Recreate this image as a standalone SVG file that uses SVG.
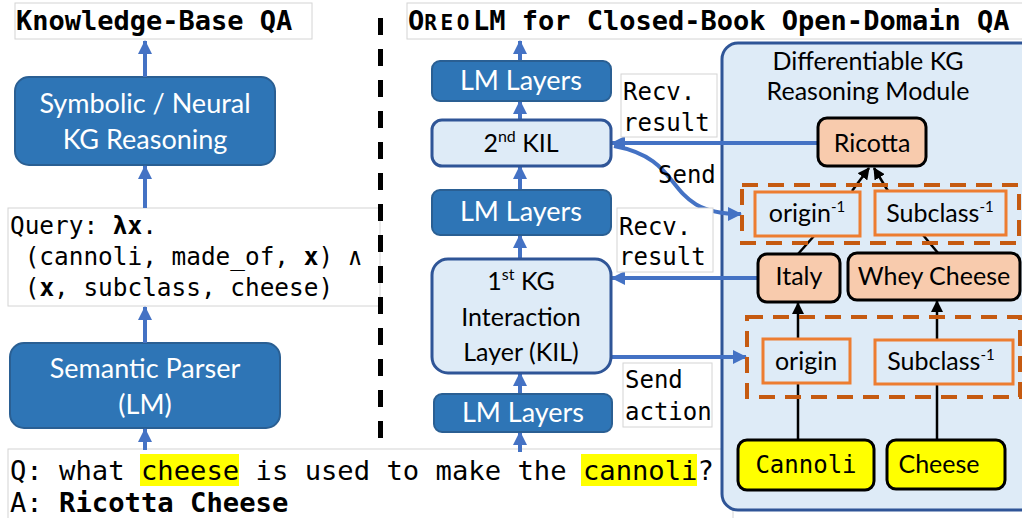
<svg xmlns="http://www.w3.org/2000/svg" width="1022" height="518" viewBox="0 0 1022 518">
  <style>
    .mono { font-family: "DejaVu Sans Mono", "Liberation Mono", monospace; fill: #000; }
    .sans { font-family: Lato, "Open Sans", "Liberation Sans", sans-serif; }
    .tbox { fill: #fff; stroke: #d4d4d4; stroke-width: 1; }
    .dark { fill: #2e75b6; stroke: #2a5f93; stroke-width: 2; }
    .light { fill: #deebf7; stroke: #2f5597; stroke-width: 3; }
    .wlabel { fill: #fff; font-size: 27px; text-anchor: middle; }
    .blabel { fill: #000; font-size: 25px; text-anchor: middle; }
    .ent { fill: #f8cbad; stroke: #000; stroke-width: 3; }
    .seed { fill: #ffff00; stroke: #000; stroke-width: 3; }
    .rel { fill: #deebf7; stroke: #ed7d31; stroke-width: 3; }
    .grp { fill: none; stroke: #c55a11; stroke-width: 4; stroke-dasharray: 16 10; }
    .blue { fill: none; stroke: #4472c4; stroke-width: 4; marker-end: url(#ab); }
    .kg { fill: none; stroke: #000; stroke-width: 2.5; }
    .hl { fill: #ffff00; }
  </style>
  <defs>
    <marker id="ab" markerUnits="userSpaceOnUse" markerWidth="14" markerHeight="14" refX="13" refY="7" orient="auto">
      <path d="M0,0 L14,7 L0,14 z" fill="#4472c4"/>
    </marker>
    <marker id="kb" markerUnits="userSpaceOnUse" markerWidth="12" markerHeight="12" refX="11" refY="6" orient="auto">
      <path d="M0,0 L12,6 L0,12 z" fill="#000"/>
    </marker>
  </defs>

  <!-- left half: knowledge-base QA pipeline -->
  <g id="kbqa-title">
    <rect class="tbox" x="15" y="3" width="297" height="36"/>
    <text class="mono" x="16" y="30" font-size="27" font-weight="bold">Knowledge-Base QA</text>
  </g>
  <g id="kg-reasoning">
    <rect class="dark" x="15" y="77" width="260" height="88" rx="14"/>
    <text class="sans wlabel" x="145" y="113">Symbolic / Neural</text>
    <text class="sans wlabel" x="145" y="149">KG Reasoning</text>
  </g>
  <g id="query">
    <rect class="tbox" x="8" y="208" width="372" height="98"/>
    <text class="mono" x="10" y="234" font-size="24.4">Query: <tspan font-weight="bold">λx</tspan>.</text>
    <text class="mono" x="10" y="265" font-size="24.4" xml:space="preserve"> (cannoli, made_of, <tspan font-weight="bold">x</tspan>) ∧</text>
    <text class="mono" x="10" y="296" font-size="24.4" xml:space="preserve"> (<tspan font-weight="bold">x</tspan>, subclass, cheese)</text>
  </g>
  <g id="semantic-parser">
    <rect class="dark" x="10" y="343" width="270" height="85" rx="14"/>
    <text class="sans wlabel" x="145" y="378">Semantic Parser</text>
    <text class="sans wlabel" x="145" y="414">(LM)</text>
  </g>
  <g id="question">
    <rect class="tbox" x="8" y="449" width="725" height="75"/>
    <rect class="hl" x="140" y="454" width="99" height="32"/>
    <rect class="hl" x="581" y="454" width="116" height="32"/>
    <text class="mono" x="10" y="480" font-size="27.2">Q: what cheese is used to make the cannoli?</text>
    <text class="mono" x="10" y="512" font-size="27.2">A: <tspan font-weight="bold">Ricotta Cheese</tspan></text>
  </g>

  <!-- divider between the two settings -->
  <line x1="380.5" y1="18" x2="380.5" y2="442" stroke="#000" stroke-width="5" stroke-dasharray="17 14"/>

  <!-- right half: OreoLM -->
  <g id="oreolm-title">
    <rect class="tbox" x="407" y="3" width="630" height="36"/>
    <text class="mono" x="408" y="30" font-size="27" font-weight="bold">O<tspan font-size="21" letter-spacing="3.6">REO</tspan>LM for Closed-Book Open-Domain QA</text>
  </g>

  <g id="kg-module">
    <rect x="722" y="43" width="330" height="467" rx="16" fill="#deebf7" stroke="#2f5597" stroke-width="3"/>
    <text class="sans blabel" x="868" y="70" font-size="24">Differentiable KG</text>
    <text class="sans blabel" x="868" y="100" font-size="24">Reasoning Module</text>
  </g>

  <g id="connectors">
    <!-- left column -->
    <line class="blue" x1="145" y1="77" x2="145" y2="41"/>
    <line class="blue" x1="145" y1="208" x2="145" y2="166"/>
    <line class="blue" x1="145" y1="343" x2="145" y2="307"/>
    <line class="blue" x1="145" y1="450" x2="145" y2="429"/>
    <!-- LM stack -->
    <line class="blue" x1="520" y1="61" x2="520" y2="41"/>
    <line class="blue" x1="520" y1="120" x2="520" y2="101"/>
    <line class="blue" x1="520" y1="190" x2="520" y2="166"/>
    <line class="blue" x1="520" y1="259" x2="520" y2="235"/>
    <line class="blue" x1="520" y1="394" x2="520" y2="373"/>
    <line class="blue" x1="520" y1="452" x2="520" y2="432"/>
    <!-- KG interaction -->
    <line class="blue" x1="818" y1="143" x2="612" y2="143"/>
    <path class="blue" d="M 614,146 C 690,160 660,214 741,214" stroke-width="3"/>
    <line class="blue" x1="757" y1="278" x2="612" y2="278"/>
    <line class="blue" x1="611" y1="357" x2="746" y2="357"/>
    <!-- reasoning paths -->
    <line class="kg" x1="798" y1="440" x2="798" y2="303" marker-end="url(#kb)"/>
    <line class="kg" x1="937" y1="440" x2="937" y2="301" marker-end="url(#kb)"/>
    <line class="kg" x1="798" y1="254" x2="814" y2="236"/>
    <line class="kg" x1="938" y1="253" x2="923" y2="235"/>
    <line class="kg" x1="852" y1="191" x2="869" y2="168" marker-end="url(#kb)"/>
    <line class="kg" x1="888" y1="191" x2="874" y2="168" marker-end="url(#kb)"/>
  </g>

  <g id="lm-layers-top">
    <rect class="dark" x="432" y="61" width="179" height="40" rx="8"/>
    <text class="sans wlabel" x="521" y="90" font-size="25">LM Layers</text>
  </g>
  <g id="kil-2">
    <rect class="light" x="432" y="120" width="179" height="46" rx="10"/>
    <text class="sans blabel" x="521" y="152">2<tspan font-size="16" dy="-10">nd</tspan><tspan dy="10"> KIL</tspan></text>
  </g>
  <g id="lm-layers-mid">
    <rect class="dark" x="432" y="190" width="179" height="45" rx="8"/>
    <text class="sans wlabel" x="521" y="221" font-size="25">LM Layers</text>
  </g>
  <g id="kil-1">
    <rect class="light" x="432" y="259" width="179" height="114" rx="16"/>
    <text class="sans blabel" x="521" y="290">1<tspan font-size="16" dy="-10">st</tspan><tspan dy="10"> KG</tspan></text>
    <text class="sans blabel" x="521" y="326">Interaction</text>
    <text class="sans blabel" x="521" y="361">Layer (KIL)</text>
  </g>
  <g id="lm-layers-bottom">
    <rect class="dark" x="434" y="394" width="178" height="38" rx="8"/>
    <text class="sans wlabel" x="523" y="422" font-size="25">LM Layers</text>
  </g>

  <g id="recv-result-2">
    <rect class="tbox" x="621" y="74" width="96" height="63"/>
    <text class="mono" x="623" y="100" font-size="24">Recv.</text>
    <text class="mono" x="623" y="131" font-size="24">result</text>
  </g>
  <g id="send-2">
    <text class="mono" x="658" y="183" font-size="24">Send</text>
  </g>
  <g id="recv-result-1">
    <rect class="tbox" x="617" y="208" width="96" height="64"/>
    <text class="mono" x="619" y="235" font-size="24">Recv.</text>
    <text class="mono" x="619" y="265" font-size="24">result</text>
  </g>
  <g id="send-action">
    <rect class="tbox" x="623" y="363" width="89" height="64"/>
    <text class="mono" x="625" y="388" font-size="24">Send</text>
    <text class="mono" x="625" y="420" font-size="24">action</text>
  </g>

  <!-- KG nodes -->
  <g id="ricotta">
    <rect class="ent" x="818" y="118" width="108" height="48" rx="9"/>
    <text class="sans blabel" x="872" y="152" font-size="24">Ricotta</text>
  </g>
  <g id="hop-2">
    <rect class="grp" x="742" y="185" width="277" height="58"/>
    <g id="origin-inv">
      <rect class="rel" x="755" y="192" width="105" height="44"/>
      <text class="sans blabel" x="807" y="222" font-size="24">origin<tspan font-size="15" dy="-10">-1</tspan></text>
    </g>
    <g id="subclass-inv-2">
      <rect class="rel" x="875" y="191" width="131" height="44"/>
      <text class="sans blabel" x="940" y="222" font-size="24">Subclass<tspan font-size="15" dy="-10">-1</tspan></text>
    </g>
  </g>
  <g id="italy">
    <rect class="ent" x="758" y="254" width="82" height="48" rx="9"/>
    <text class="sans blabel" x="799" y="285" font-size="24">Italy</text>
  </g>
  <g id="whey-cheese">
    <rect class="ent" x="848" y="253" width="172" height="47" rx="9"/>
    <text class="sans blabel" x="934" y="285" font-size="24">Whey Cheese</text>
  </g>
  <g id="hop-1">
    <rect class="grp" x="747" y="317" width="273" height="80"/>
    <g id="origin">
      <rect class="rel" x="763" y="339" width="87" height="44"/>
      <text class="sans blabel" x="806" y="370" font-size="24">origin</text>
    </g>
    <g id="subclass-inv-1">
      <rect class="rel" x="875" y="340" width="138" height="44"/>
      <text class="sans blabel" x="941" y="370" font-size="24">Subclass<tspan font-size="15" dy="-10">-1</tspan></text>
    </g>
  </g>
  <g id="cannoli">
    <rect class="seed" x="738" y="440" width="136" height="50" rx="9"/>
    <text class="mono" x="806" y="473" font-size="24" text-anchor="middle">Cannoli</text>
  </g>
  <g id="cheese">
    <rect class="seed" x="887" y="440" width="118" height="49" rx="9"/>
    <text class="sans blabel" x="939" y="473" font-size="24">Cheese</text>
  </g>
</svg>
